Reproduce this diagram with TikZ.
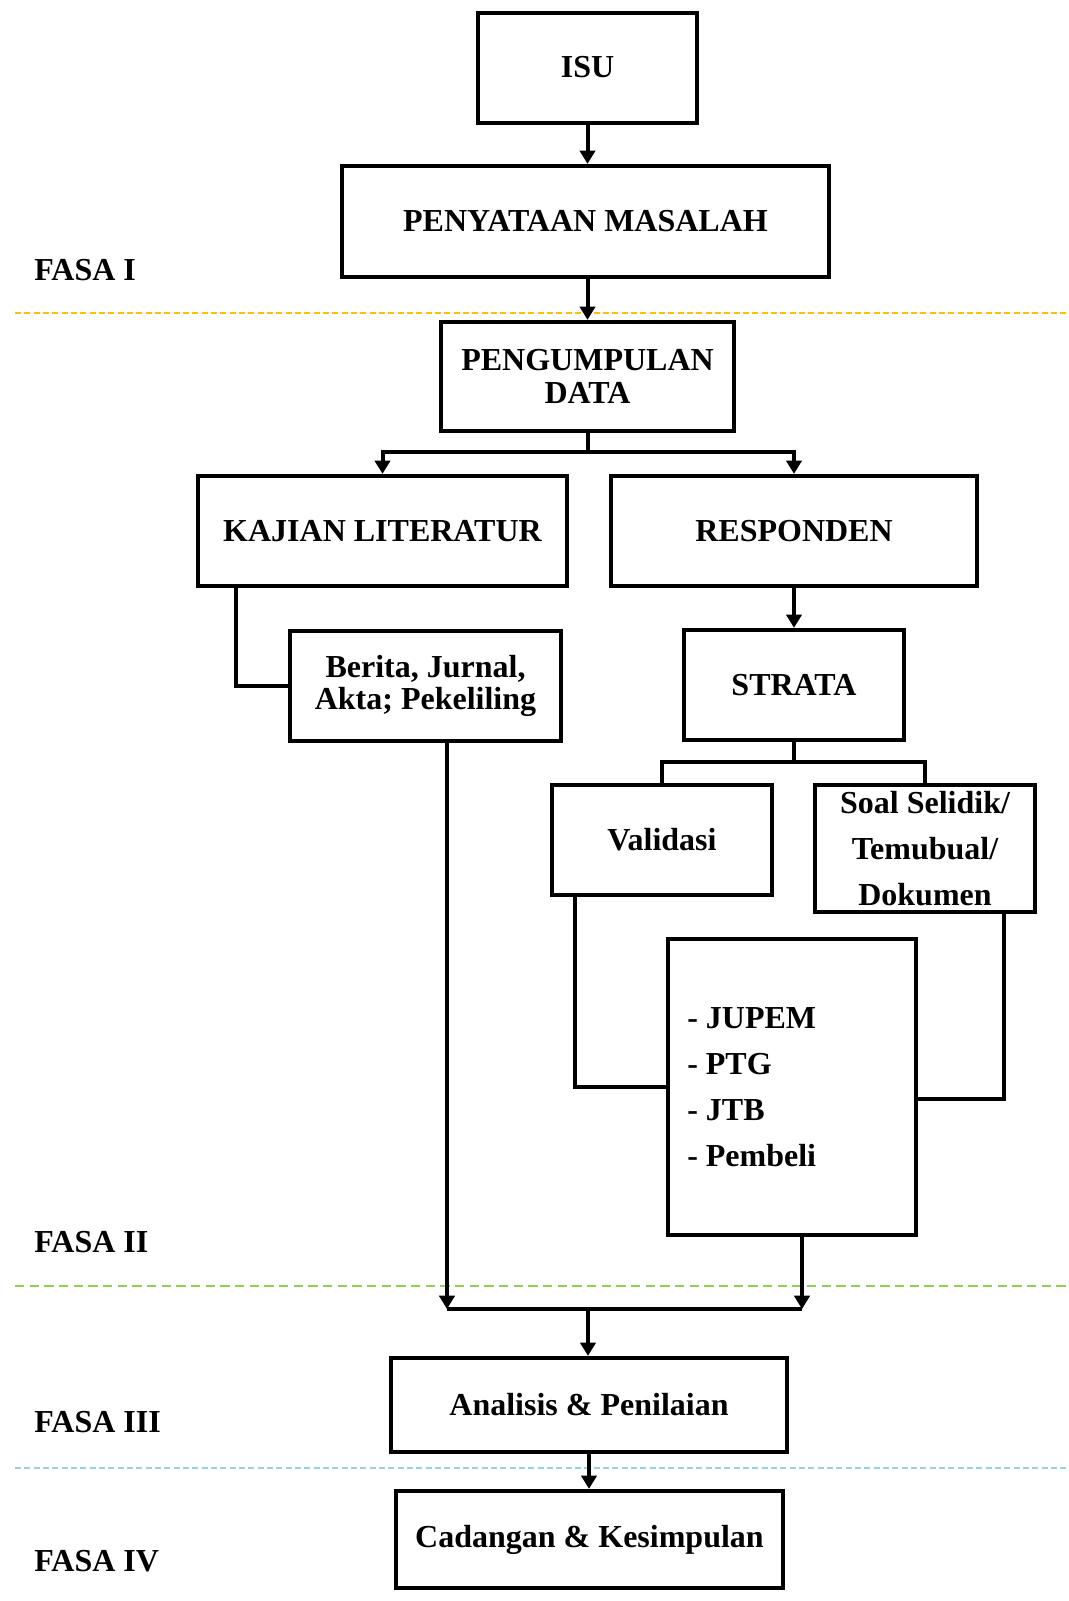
\documentclass[tikz,border=0pt]{standalone}
\usepackage{fontspec}
\setmainfont{Liberation Serif}
\usetikzlibrary{arrows.meta}
\begin{document}
\begin{tikzpicture}[x=0.75pt,y=-0.75pt,
  every node/.style={font=\bfseries\fontsize{24pt}{24.5pt}\selectfont},
  box/.style={draw, line width=3.2pt, inner sep=0pt, align=center},
  sz/.style 2 args={minimum width=#1*0.75pt, minimum height=#2*0.75pt},
  conn/.style={line width=3pt},
  arr/.style={conn, -{Triangle[width=11.5pt,length=10pt]}},
  fasa/.style={anchor=west, inner sep=0pt},
  sep/.style={line width=1.5pt}
]
\useasboundingbox (0,0) rectangle (1069,1601);

% separators
\draw[sep, color={rgb,255:red,255;green,192;blue,0}, dash pattern=on 4.5pt off 2.5pt] (15,313) -- (1069,313);
\draw[sep, color={rgb,255:red,146;green,208;blue,80}, dash pattern=on 7pt off 4pt] (15,1286) -- (1069,1286);
\draw[sep, color={rgb,255:red,150;green,210;blue,228}, dash pattern=on 4.5pt off 2.5pt] (15,1468) -- (1069,1468);

% phase labels
\node[fasa] (f1) at (34,270) {FASA I};
\node[fasa] (f2) at (34,1242) {FASA II};
\node[fasa] (f3) at (34,1422) {FASA III};
\node[fasa] (f4) at (34,1561) {FASA IV};

% boxes
\node[box, sz={219}{110}] (isu) at (587.5,68) {\raisebox{1.5pt}{ISU}};
\node[box, sz={487}{111}] (peny) at (585.5,221.5) {PENYATAAN MASALAH};
\node[box, sz={293}{109}, font=\bfseries\fontsize{24pt}{24.8pt}\selectfont] (peng) at (587.5,376.5) {PENGUMPULAN\\DATA};
\node[box, sz={369}{110}] (kaj) at (382.5,531) {KAJIAN LITERATUR};
\node[box, sz={366}{110}] (resp) at (794,531) {RESPONDEN};
\node[box, sz={271}{110}, font=\bfseries\fontsize{24pt}{24pt}\selectfont] (ber) at (425.5,686) {Berita, Jurnal,\\Akta; Pekeliling};
\node[box, sz={220}{110}] (strata) at (794,685) {STRATA};
\node[box, sz={220}{110}] (val) at (662,840) {Validasi};
\node[box, sz={220}{127}, font=\bfseries\fontsize{24pt}{34.5pt}\selectfont] (soal) at (925,848.5) {Soal Selidik/\\Temubual/\\Dokumen};
\node[box, sz={248}{296}] (jup) at (792,1087) {};
\node[anchor=west, inner sep=0pt, align=left, font=\bfseries\fontsize{24pt}{34.5pt}\selectfont] (list) at (687,1087) {- JUPEM\\- PTG\\- JTB\\- Pembeli};
\node[box, sz={396}{94}] (ana) at (589,1405) {Analisis \& Penilaian};
\node[box, sz={387}{97}] (cad) at (589.5,1539.5) {\raisebox{-1.5pt}{Cadangan \& Kesimpulan}};

% connectors
\draw[arr] (isu.south) -- (isu.south |- peny.north);
\draw[arr] (peny.south -| peng.north) -- (peng.north);
\coordinate (j1) at (587.5,452);
\draw[conn] (peng.south) -- (j1);
\draw[arr] (j1) -| (kaj.north);
\draw[arr] (j1) -| (resp.north);
\coordinate (k1) at (236,685);
\draw[conn] (kaj.south -| k1) |- (ber.west);
\draw[arr] (resp.south) -- (strata.north);
\coordinate (j2) at (794,762);
\draw[conn] (strata.south) -- (j2);
\draw[conn] (j2) -| (val.north);
\draw[conn] (j2) -| (soal.north);
\coordinate (v1) at (575,1086);
\draw[conn] (val.south -| v1) |- (jup.west);
\coordinate (s1) at (1004,1099);
\draw[conn] (soal.south -| s1) -- (s1) -- (s1 -| jup.east);
\coordinate (j3) at (447,1309);
\coordinate (j4) at (802,1309);
\coordinate (j5) at (588,1309);
\draw[arr] (ber.south -| j3) -- (j3);
\draw[arr] (jup.south -| j4) -- (j4);
\draw[conn] (j3) -- (j4);
\draw[arr] (j5) -- (j5 |- ana.north);
\draw[arr] (ana.south) -- (ana.south |- cad.north);
\end{tikzpicture}
\end{document}
